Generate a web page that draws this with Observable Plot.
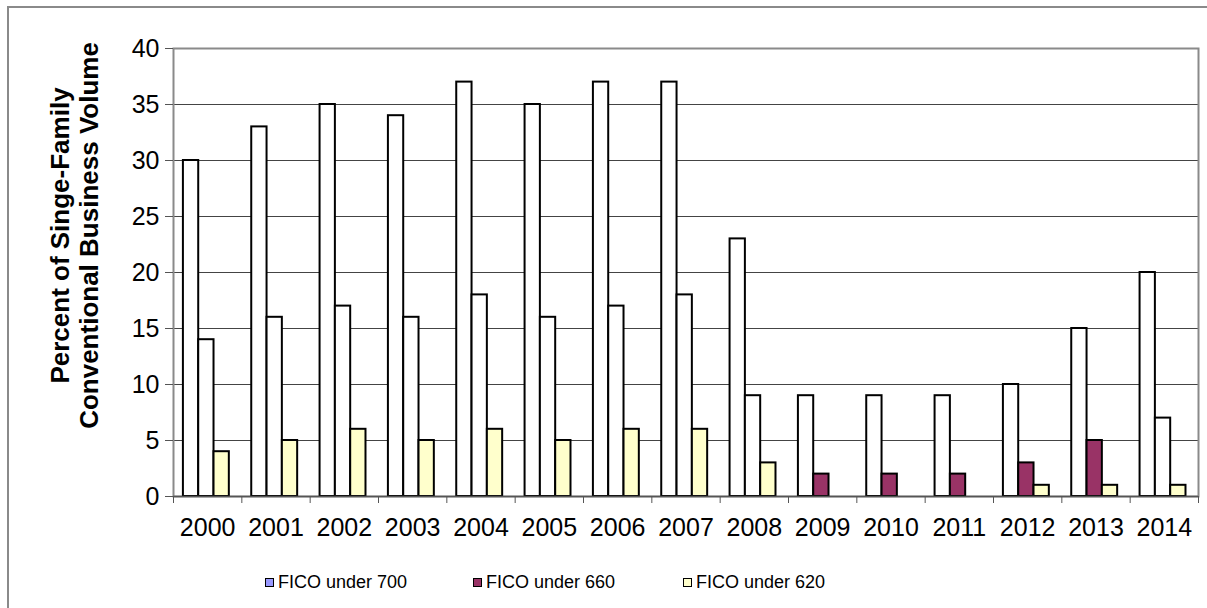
<!DOCTYPE html>
<html>
<head>
<meta charset="utf-8">
<script src="https://cdn.jsdelivr.net/npm/d3@7"></script>
<script src="https://cdn.jsdelivr.net/npm/@observablehq/plot@0.6"></script>
<style>
  html, body { margin: 0; padding: 0; background: #fff; }
  #wrap { position: relative; width: 1207px; height: 608px; overflow: hidden; font-family: "Liberation Sans", Arial, sans-serif; background: #fff; }
  #border { position: absolute; left: 7px; top: 6px; width: 1220px; height: 620px; border: 2px solid #8a8a8a; box-sizing: border-box; pointer-events: none; }
  #chart { position: absolute; left: 0; top: 0; }
  #legend { position: absolute; top: 570px; left: 0; width: 1207px; height: 24px; }
  .item { position: absolute; top: 0; display: flex; align-items: center; font-size: 18px; line-height: 24px; color: #000; white-space: nowrap; }
  .sw { width: 7px; height: 7px; border: 1.5px solid #000; margin-right: 4px; }
</style>
</head>
<body>
<div id="wrap">
  <div id="chart"></div>
  <div id="legend"></div>
  <div id="border"></div>
</div>
<script>
// ---- data ----
const years = [2000, 2001, 2002, 2003, 2004, 2005, 2006, 2007, 2008, 2009, 2010, 2011, 2012, 2013, 2014];
const seriesNames = ["FICO under 700", "FICO under 660", "FICO under 620"];
const under700 = [30, 33, 35, 34, 37, 35, 37, 37, 23, 9, 9, 9, 10, 15, 20];
const under660 = [14, 16, 17, 16, 18, 16, 17, 18, 9, 2, 2, 2, 3, 5, 7];
const under620 = [4, 5, 6, 5, 6, 5, 6, 6, 3, 0, 0, 0, 1, 1, 1];
const yTicks = [0, 5, 10, 15, 20, 25, 30, 35, 40];
const yTitle = "Percent of Singe-Family\nConventional Business Volume";

// ---- styles ----
const legendColors = ["#9999FF", "#993366", "#FFFFCC"];
const solid660Years = [2009, 2010, 2011, 2012, 2013]; // bars drawn filled in the original
const OFF = 0.145, BW = 0.224;

const seriesValues = [under700, under660, under620];
const rows = years.flatMap((yr, i) => seriesValues.map((vals, j) => ({year: yr, i, j, series: seriesNames[j], value: vals[i]})))
  .filter(d => d.value > 0);

function barFill(d) {
  if (d.j === 0) return "#ffffff";
  if (d.j === 1) return solid660Years.includes(d.year) ? legendColors[1] : "#ffffff";
  return legendColors[2];
}

const chart = Plot.plot({
  width: 1207,
  height: 560,
  marginLeft: 173,
  marginRight: 9,
  marginTop: 48,
  marginBottom: 64,
  style: {fontFamily: "Liberation Sans, Arial, sans-serif", fontSize: "25px", color: "#000", background: "transparent"},
  x: {domain: [0, years.length], label: null},
  y: {domain: [0, 40], label: null},
  marks: [
    Plot.gridY(yTicks.filter(t => t > 0 && t < 40), {stroke: "#444", strokeOpacity: 1, strokeWidth: 1}),
    Plot.frame({stroke: "#8a8a8a", strokeWidth: 2}),
    Plot.rect(rows, {
      x1: d => d.i + OFF + d.j * BW,
      x2: d => d.i + OFF + (d.j + 1) * BW,
      y1: 0,
      y2: "value",
      fill: barFill,
      stroke: "#000",
      strokeWidth: 2
    }),
    Plot.ruleY([0], {stroke: "#555", strokeWidth: 1.5}),
    Plot.axisY(yTicks, {tickSize: 8, tickPadding: 6, fontSize: 25, label: null, stroke: "#555"}),
    Plot.axisX(d3.range(years.length + 1), {tickSize: 7, tickFormat: () => "", label: null, stroke: "#555"}),
    Plot.axisX(years.map((y, i) => i + 0.5), {tickSize: 0, tickPadding: 22, fontSize: 25, label: null, tickFormat: v => String(years[Math.floor(v)])}),
    Plot.text([yTitle], {frameAnchor: "left", textAnchor: "middle", rotate: -90, dx: -99, dy: -37, fontWeight: "bold", fontSize: 26, lineHeight: 1.08, fill: "#000"})
  ]
});
document.getElementById("chart").appendChild(chart);

// legend
const legendLefts = [265, 473, 683];
const legend = document.getElementById("legend");
seriesNames.forEach((name, k) => {
  const item = document.createElement("div");
  item.className = "item";
  item.style.left = legendLefts[k] + "px";
  const sw = document.createElement("span");
  sw.className = "sw";
  sw.style.background = legendColors[k];
  const t = document.createElement("span");
  t.textContent = name;
  item.appendChild(sw);
  item.appendChild(t);
  legend.appendChild(item);
});
</script>
</body>
</html>
